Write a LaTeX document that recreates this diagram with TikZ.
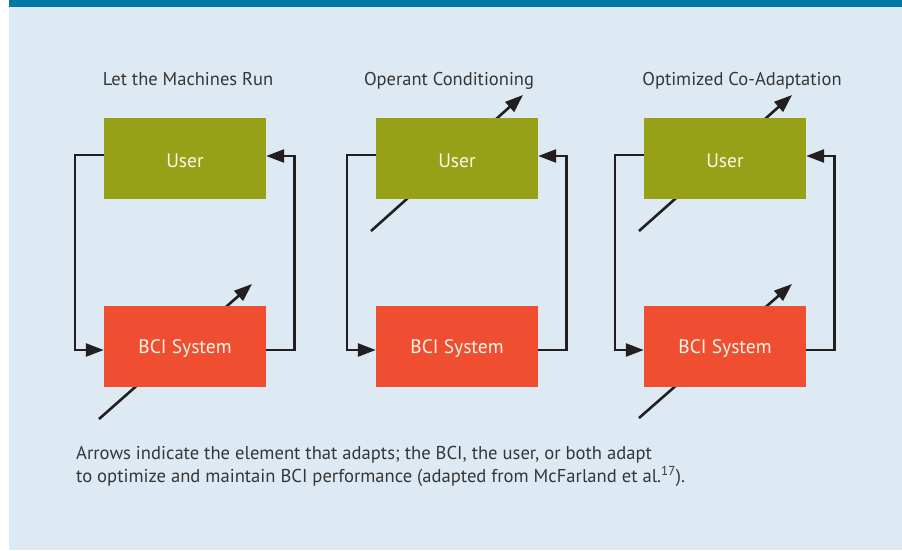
\documentclass[tikz,border=0pt]{standalone}
\usepackage{fontspec}
\setmainfont{PT Sans}
\usetikzlibrary{arrows.meta,calc}

\definecolor{panelbg}{HTML}{DDEAF4}
\definecolor{barblue}{HTML}{0079A5}
\definecolor{userolive}{HTML}{97A118}
\definecolor{bcired}{HTML}{EF4F30}
\definecolor{inkdark}{HTML}{231F20}
\definecolor{textgray}{HTML}{363636}
\definecolor{labelwhite}{HTML}{FBF6EA}

\tikzset{
  box/.style={minimum width=162pt, minimum height=81pt, inner sep=0pt,
              text depth=0pt, text=labelwhite,
              font=\fontsize{19.5}{22}\selectfont},
  userbox/.style={box, fill=userolive, text height=18.5pt},
  bcibox/.style={box, fill=bcired, text height=15.5pt},
  loopline/.style={draw=inkdark, line width=2.6pt,
                   -{Triangle[length=18pt,width=13pt]}},
  adaptarrow/.style={draw=inkdark, line width=2.6pt,
                     -{Triangle[length=18pt,width=13pt]}},
  paneltitle/.style={anchor=base, inner sep=0pt, text=textgray,
                     font=\fontsize{18.5}{21}\selectfont},
  captionline/.style={anchor=base west, inner sep=0pt, text=textgray,
                      font=\fontsize{18.6}{22}\selectfont}
}

\begin{document}
\begin{tikzpicture}[x=1pt,y=-1pt]
  \useasboundingbox (0,0) rectangle (902,550);

  % background panel and header bar
  \fill[panelbg] (9,0) rectangle (902,550);
  \fill[barblue] (9,0) rectangle (902,7);

  % panel titles
  \node[paneltitle] (t1) at (188,85.5) {Let the Machines Run};
  \node[paneltitle] (t2) at (449,85.5) {Operant Conditioning};
  \node[paneltitle] (t3) at (742,85.5) {Optimized Co-Adaptation};

  % adaptation arrows (drawn first so the boxes cover their middles)
  \coordinate (a1s) at (99,419);  \coordinate (a1e) at (252,284);
  \coordinate (a2s) at (371,231); \coordinate (a2e) at (523,95);
  \coordinate (a3s) at (639,231); \coordinate (a3e) at (792,95);
  \coordinate (a4s) at (639,418); \coordinate (a4e) at (792,284);
  \draw[adaptarrow] (a1s) -- (a1e);
  \draw[adaptarrow] (a2s) -- (a2e);
  \draw[adaptarrow] (a3s) -- (a3e);
  \draw[adaptarrow] (a4s) -- (a4e);

  % boxes
  \node[userbox] (u1) at (185,158.5) {User};
  \node[bcibox]  (b1) at (185,346)   {BCI System};
  \node[userbox] (u2) at (457,158.5) {User};
  \node[bcibox]  (b2) at (457,346)   {BCI System};
  \node[userbox] (u3) at (725,158.5) {User};
  \node[bcibox]  (b3) at (725,346)   {BCI System};

  % feedback loops
  \foreach \p in {1,2,3}{
    \draw[loopline] ([yshift=3.5pt]u\p.west) -- ++(-29,0) |- ([yshift=-4pt]b\p.west);
    \draw[loopline] ([yshift=-4pt]b\p.east) -- ++(28,0) |- ([yshift=2.5pt]u\p.east);
  }

  % caption
  \node[captionline] (c1) at (76,459)
    {Arrows indicate the element that adapts; the BCI, the user, or both adapt};
  \node[captionline] (c2) at (76,482)
    {to optimize and maintain BCI performance (adapted from McFarland et al.\textsuperscript{17}).};
\end{tikzpicture}
\end{document}
